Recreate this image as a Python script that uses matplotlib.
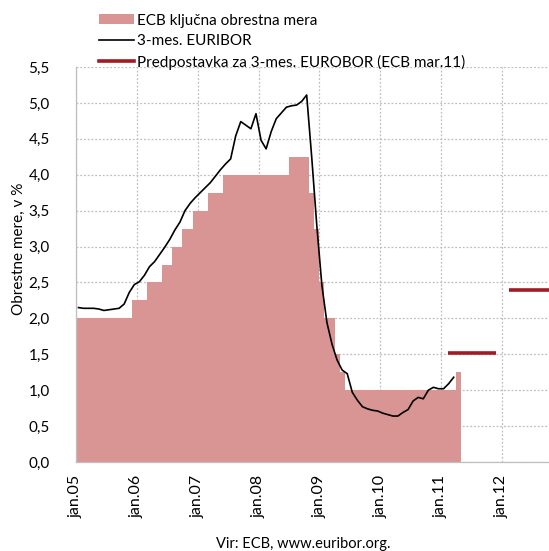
import numpy as np
import matplotlib.pyplot as plt
from matplotlib.patches import Patch
from matplotlib.lines import Line2D

plt.rcParams['font.family'] = ['Lato', 'DejaVu Sans']

# monthly values from jan.05
ecb_rate = [2.00, 2.00, 2.00, 2.00, 2.00, 2.00, 2.00, 2.00, 2.00, 2.00, 2.00, 2.25,
            2.25, 2.25, 2.50, 2.50, 2.50, 2.75, 2.75, 3.00, 3.00, 3.25, 3.25, 3.50,
            3.50, 3.50, 3.75, 3.75, 3.75, 4.00, 4.00, 4.00, 4.00, 4.00, 4.00, 4.00,
            4.00, 4.00, 4.00, 4.00, 4.00, 4.00, 4.25, 4.25, 4.25, 4.25, 3.75, 3.25,
            2.50, 2.00, 2.00, 1.50, 1.25, 1.00, 1.00, 1.00, 1.00, 1.00, 1.00, 1.00,
            1.00, 1.00, 1.00, 1.00, 1.00, 1.00, 1.00, 1.00, 1.00, 1.00, 1.00, 1.00,
            1.00, 1.00, 1.00, 1.25]

euribor = [2.15, 2.14, 2.14, 2.14, 2.13, 2.11, 2.12, 2.13, 2.14, 2.20, 2.36, 2.47,
           2.51, 2.60, 2.72, 2.79, 2.89, 2.99, 3.10, 3.23, 3.34, 3.50, 3.60, 3.68,
           3.75, 3.82, 3.89, 3.98, 4.07, 4.15, 4.22, 4.54, 4.74, 4.69, 4.64, 4.85,
           4.48, 4.36, 4.60, 4.78, 4.86, 4.94, 4.96, 4.97, 5.02, 5.11, 4.24, 3.29,
           2.46, 1.94, 1.64, 1.42, 1.28, 1.23, 0.97, 0.86, 0.77, 0.74, 0.72, 0.71,
           0.68, 0.66, 0.64, 0.64, 0.69, 0.73, 0.85, 0.90, 0.88, 1.00, 1.04, 1.02,
           1.02, 1.09, 1.18]

# assumption for 3-month euribor: (start month, end month, value)
forecast = [(73.3, 82.8, 1.52), (85.4, 96.0, 2.39)]

tick_labels = ['jan.05', 'jan.06', 'jan.07', 'jan.08', 'jan.09', 'jan.10', 'jan.11', 'jan.12']

bar_color = '#d99594'
red = '#a31b22'

fig = plt.figure(figsize=(5.49, 5.51), dpi=100)
ax = fig.add_axes([76/549, 1 - 462/551, 1 - 76/549, (462 - 67)/551])

months = np.arange(len(ecb_rate))
ax.bar(months, ecb_rate, width=1.0, align='edge', color=bar_color, lw=0, zorder=2)
ax.plot(np.arange(len(euribor)) + 0.5, euribor, color='black', lw=1.2, zorder=3)
for x0, x1, v in forecast:
    ax.plot([x0, x1], [v, v], color=red, lw=2.6, solid_capstyle='butt', zorder=3)

ax.set_xlim(0, 93.3)
ax.set_ylim(0, 5.5)
ax.set_yticks(np.arange(0, 5.51, 0.5))
ax.set_yticklabels([f'{v:.1f}'.replace('.', ',') for v in np.arange(0, 5.51, 0.5)], fontsize=11)
ax.set_xticks(np.arange(0, 85, 12))
ax.set_xticklabels(tick_labels, rotation=90, fontsize=11.5)
ax.tick_params(length=0, axis='y', pad=19)
ax.tick_params(length=0, axis='x', pad=9)

ax.grid(True, color='#bfbfbf', ls=(0, (1.5, 1.5)), lw=0.9)
ax.set_axisbelow(True)
for s in ['top', 'right']:
    ax.spines[s].set_visible(False)
for s in ['left', 'bottom']:
    ax.spines[s].set_color('#bfbfbf')
    ax.spines[s].set_linewidth(0.9)

ax.set_ylabel('Obrestne mere, v %', fontsize=11)
ax.yaxis.set_label_coords(-0.105, 0.54)

handles = [Patch(facecolor=bar_color, edgecolor='none'),
           Line2D([], [], color='black', lw=1.2),
           Line2D([], [], color=red, lw=2.6)]
labels = ['ECB ključna obrestna mera', '3-mes. EURIBOR',
          'Predpostavka za 3-mes. EUROBOR (ECB mar.11)']
fig.legend(handles, labels, loc='upper left', bbox_to_anchor=(91/549, 1 - 6/551),
           frameon=False, fontsize=11, borderpad=0, handlelength=2.3,
           handletextpad=0.2, labelspacing=0.42, handleheight=0.6)

fig.text(303/549, 1 - 544/551, 'Vir: ECB, www.euribor.org.', ha='center', va='center', fontsize=10.5)

fig.savefig('out.png', dpi=100)
